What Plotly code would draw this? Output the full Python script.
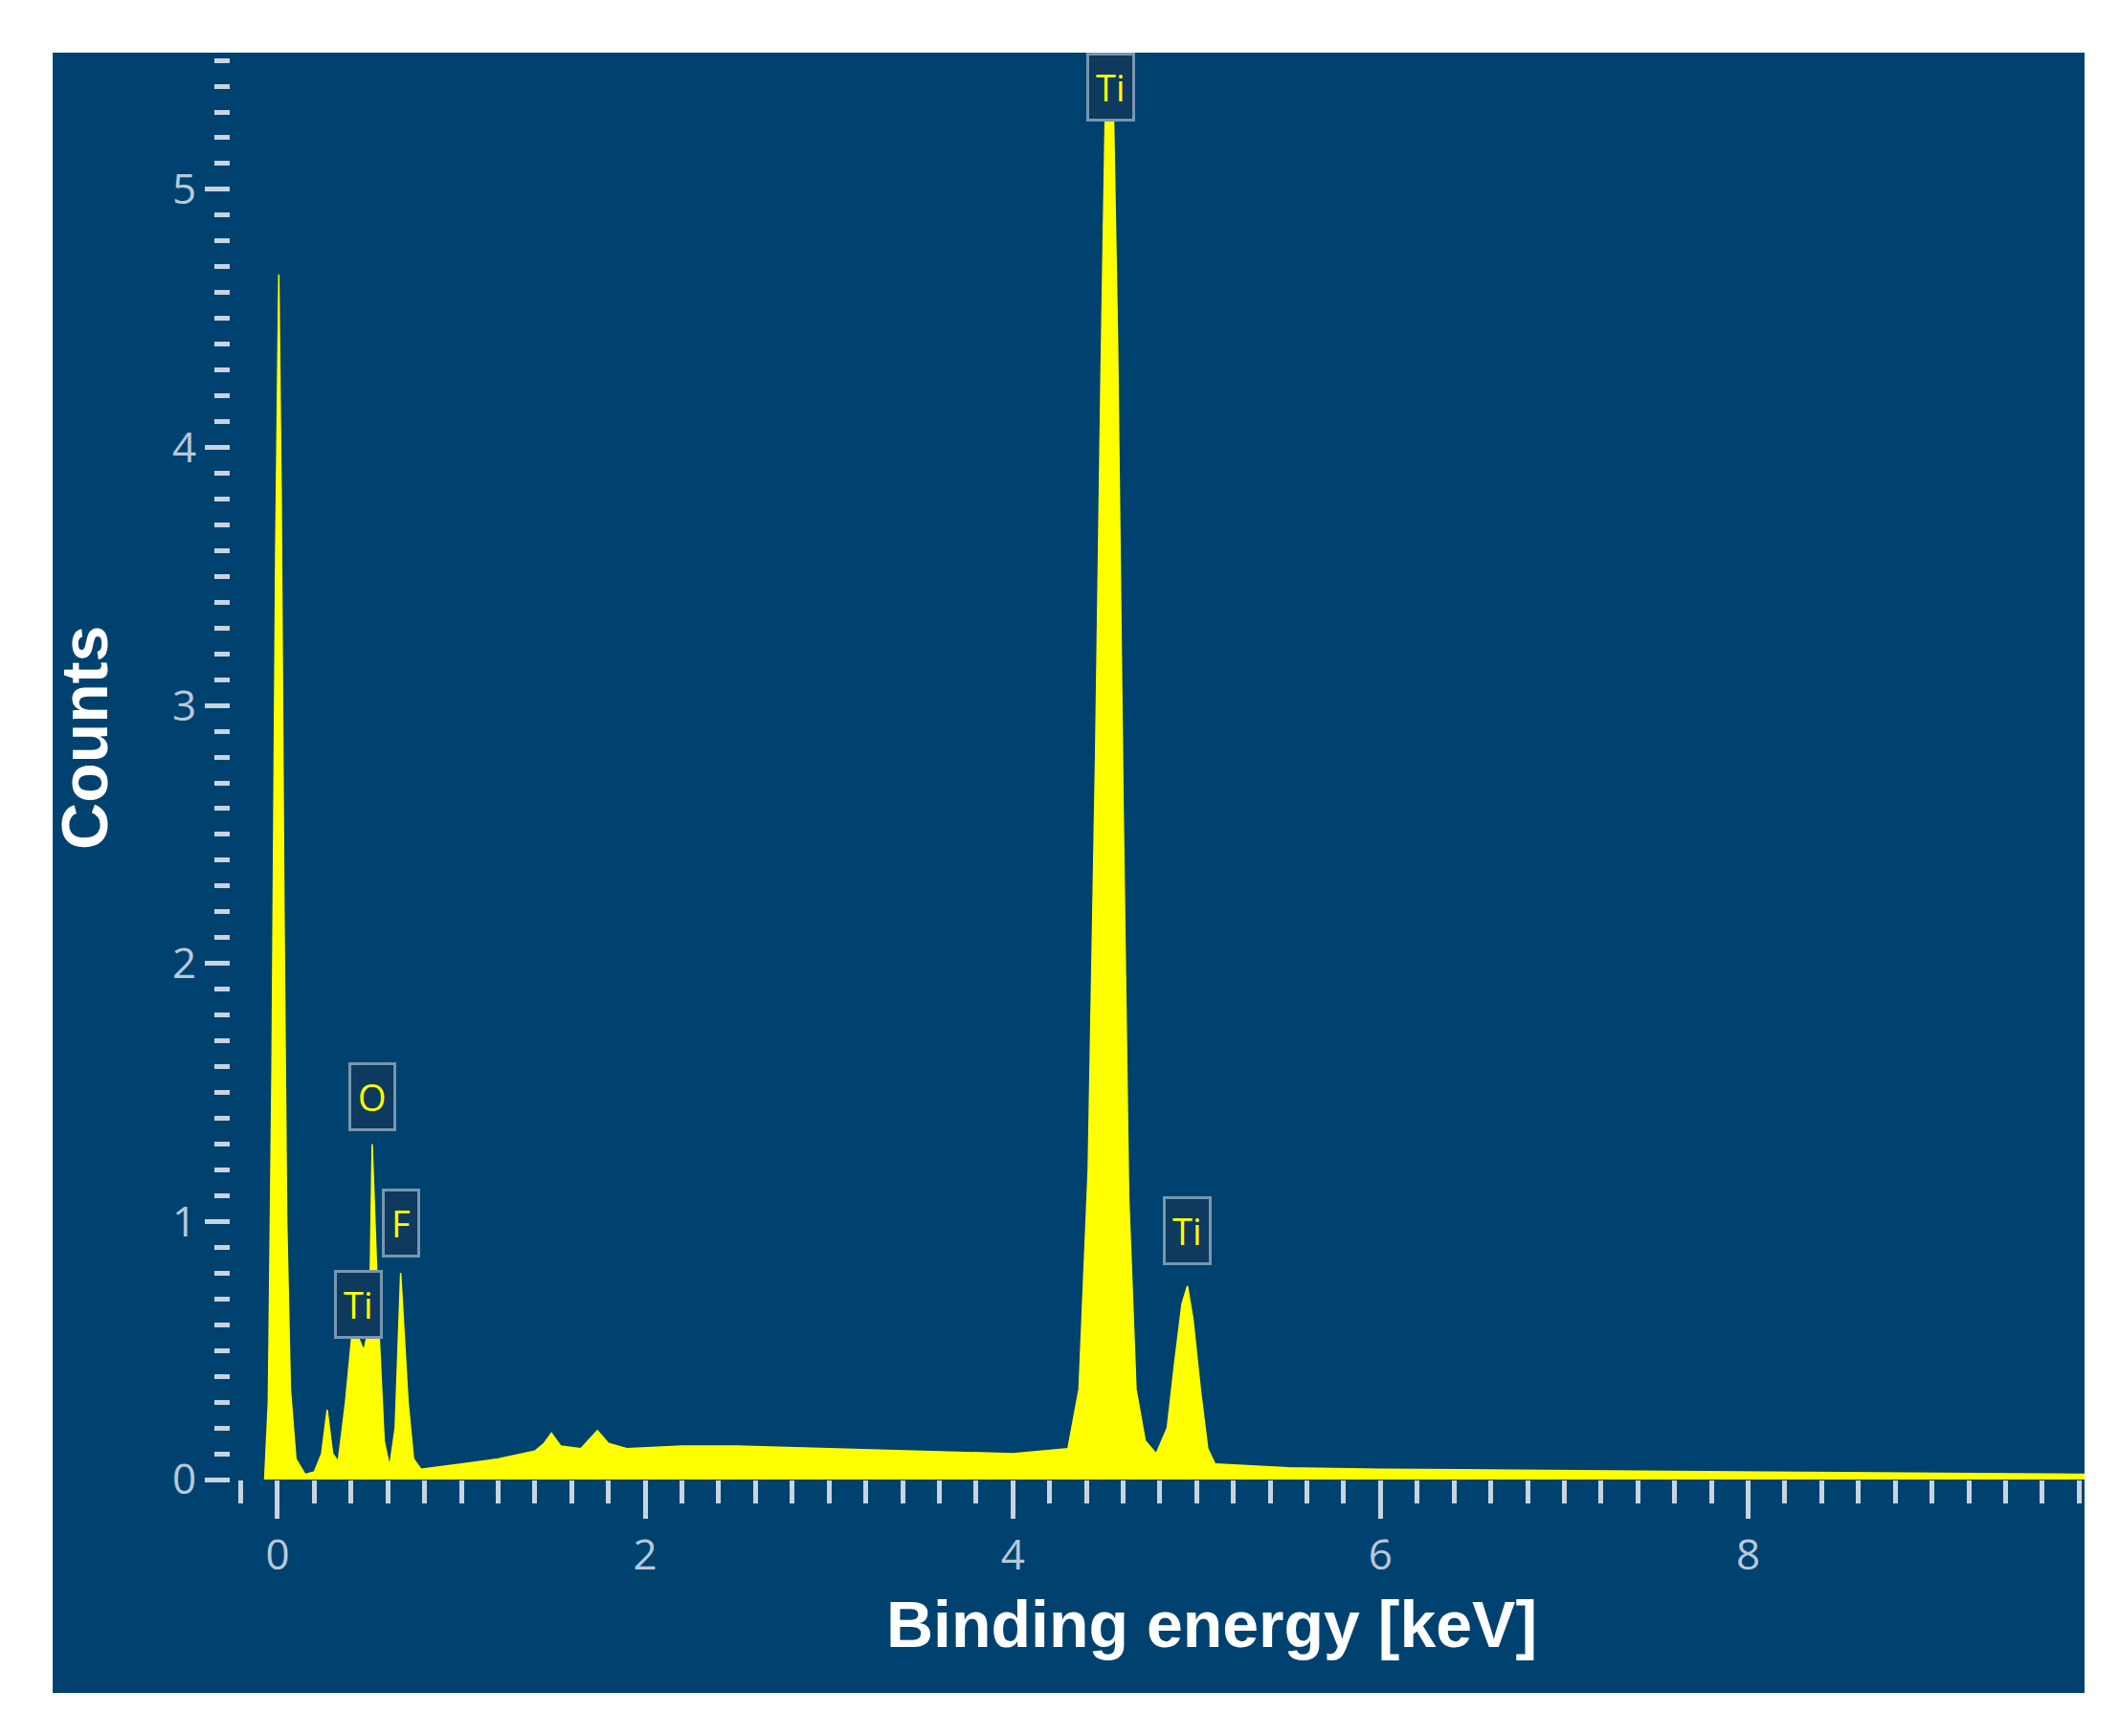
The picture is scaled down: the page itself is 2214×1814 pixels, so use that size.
import plotly.graph_objects as go

# spectre EDS
energie = [-0.07, -0.05, -0.03, -0.01, 0.007, 0.02, 0.035, 0.05, 0.07, 0.1, 0.15, 0.2, 0.24, 0.27, 0.3,
           0.33, 0.37, 0.41, 0.44, 0.47, 0.5, 0.515, 0.55, 0.58, 0.61, 0.64, 0.67, 0.71, 0.74,
           0.78, 1.0, 1.2, 1.4, 1.45, 1.49, 1.54, 1.65, 1.74, 1.8, 1.9, 2.2, 2.5, 3.0, 3.5, 4.0,
           4.3, 4.36, 4.41, 4.45, 4.48, 4.51, 4.54, 4.57, 4.6, 4.63, 4.67, 4.72, 4.78, 4.84, 4.88, 4.92, 4.95,
           4.98, 5.02, 5.06, 5.1, 5.5, 6.0, 7.0, 8.0, 9.0, 9.83]
coups = [0.0, 0.3, 1.6, 3.6, 4.67, 3.8, 2.2, 1.0, 0.35, 0.08, 0.02, 0.03, 0.1, 0.27, 0.1,
         0.07, 0.3, 0.6, 0.55, 0.5, 0.6, 1.3, 0.6, 0.15, 0.05, 0.2, 0.8, 0.3, 0.08,
         0.04, 0.06, 0.08, 0.11, 0.14, 0.18, 0.13, 0.12, 0.19, 0.14, 0.12, 0.13, 0.13, 0.12, 0.11, 0.10,
         0.12, 0.35, 1.2, 2.8, 4.3, 5.6, 5.6, 4.4, 2.6, 1.1, 0.35, 0.15, 0.1, 0.2, 0.45, 0.68, 0.75,
         0.62, 0.35, 0.12, 0.06, 0.045, 0.04, 0.035, 0.03, 0.025, 0.02]

# etiquettes des elements
elements = ["Ti", "O", "F", "Ti", "Ti"]
elem_x = [0.44, 0.515, 0.67, 4.53, 4.95]
elem_y = [0.545, 1.35, 0.86, 5.53, 0.83]
elem_ancre = ["bottom", "bottom", "bottom", "top", "bottom"]

x_ticks = [0, 2, 4, 6, 8]
y_ticks = [0, 1, 2, 3, 4, 5]

fig = go.Figure()
fig.add_trace(go.Scatter(x=energie, y=coups, mode="lines", fill="tozeroy",
                         line=dict(color="#ffff00", width=1.5), fillcolor="#ffff00",
                         showlegend=False))

for nom, x, y, ancre in zip(elements, elem_x, elem_y, elem_ancre):
    fig.add_annotation(x=x, y=y, text=nom, showarrow=False, yanchor=ancre,
                       font=dict(color="#ffff00", size=38, family="Open Sans"),
                       bgcolor="#0d3a5e", bordercolor="#7896b0", borderwidth=3,
                       borderpad=7)

fig.add_annotation(text="<b>Counts</b>", x=-0.10, y=0.52, xref="paper", yref="paper",
                   showarrow=False, textangle=-90,
                   font=dict(color="white", size=68, family="Liberation Sans"))
fig.add_annotation(text="<b>Binding energy [keV]</b>", x=0.529, y=-0.128, xref="paper",
                   yref="paper", showarrow=False,
                   font=dict(color="white", size=68, family="Liberation Sans"))

fig.add_shape(type="rect", xref="paper", yref="paper", x0=-0.096, x1=1, y0=-0.1496, y1=1,
              fillcolor="#00426f", line=dict(width=0), layer="below")

tick_font = dict(color="#b8c8d8", size=44, family="Open Sans")
fig.update_xaxes(range=[-0.255, 9.83], tickvals=x_ticks, ticks="outside", ticklen=40,
                 tickwidth=5, tickcolor="#c8d4e0", tickfont=tick_font, showgrid=False,
                 zeroline=False, showline=False,
                 minor=dict(dtick=0.2, tick0=0, ticks="outside", ticklen=24, tickwidth=5,
                            tickcolor="#c8d4e0"))
fig.update_yaxes(range=[0, 5.53], tickvals=y_ticks, ticks="outside", ticklen=26,
                 tickwidth=5, tickcolor="#c8d4e0", tickfont=tick_font, showgrid=False,
                 zeroline=False, showline=False,
                 minor=dict(dtick=0.1, tick0=0, ticks="outside", ticklen=16, tickwidth=5,
                            tickcolor="#c8d4e0"))
fig.update_layout(width=2214, height=1814, paper_bgcolor="white",
                  plot_bgcolor="rgba(0,0,0,0)",
                  margin=dict(l=233, r=44, t=47, b=276))

fig.write_html("out.html")
